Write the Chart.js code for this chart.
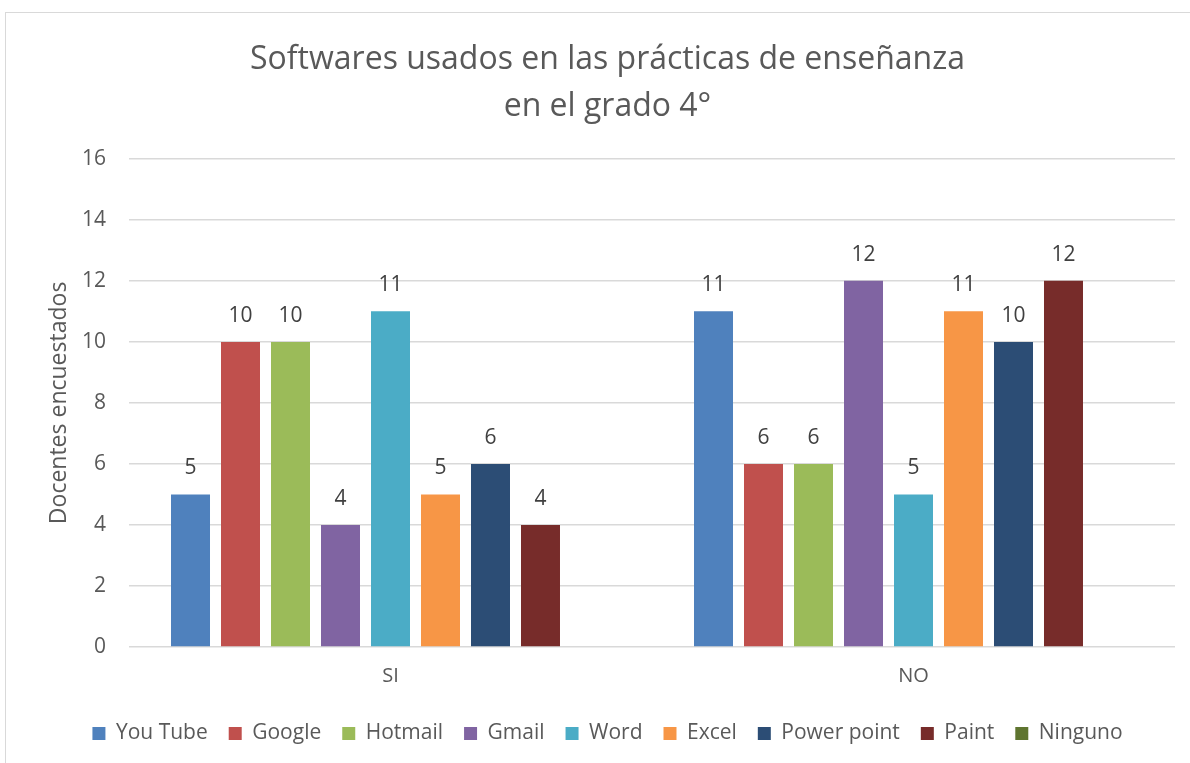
<!DOCTYPE html>
<html>
<head>
<meta charset="utf-8">
<title>Softwares usados en las prácticas de enseñanza</title>
<script src="https://cdn.jsdelivr.net/npm/chart.js@4/dist/chart.umd.min.js"></script>
<style>
  html, body { margin: 0; padding: 0; background: #fff; }
  #wrap { position: relative; width: 1190px; height: 763px; }
  #frame { position: absolute; left: 5px; top: 12px; width: 1200px; height: 800px;
           border-left: 1px solid #d9d9d9; border-top: 1px solid #d9d9d9; }
  canvas { position: absolute; left: 0; top: 0; }
</style>
</head>
<body>
<div id="wrap">
  <div id="frame"></div>
  <canvas id="chart" width="1190" height="763"></canvas>
</div>
<script>
// chart data
const categories = ["SI", "NO"];
const seriesNames = ["You Tube", "Google", "Hotmail", "Gmail", "Word", "Excel", "Power point", "Paint", "Ninguno"];
const youTube = [5, 11];
const google = [10, 6];
const hotmail = [10, 6];
const gmail = [4, 12];
const word = [11, 5];
const excel = [5, 11];
const powerPoint = [6, 10];
const paint = [4, 12];
const ninguno = [null, null];
const yTicks = [0, 2, 4, 6, 8, 10, 12, 14, 16];

const seriesValues = [youTube, google, hotmail, gmail, word, excel, powerPoint, paint, ninguno];
const colors = ["#4f81bd", "#c0504d", "#9bbb59", "#8064a2", "#4bacc6", "#f79646", "#2c4d75", "#772c2a", "#5f7530"];

const FONT = "'Open Sans', sans-serif";
const TXT = "#595959";

// draws the value above every bar
const valueLabels = {
  id: "valueLabels",
  afterDatasetsDraw(chart) {
    const ctx = chart.ctx;
    ctx.save();
    ctx.font = "21px " + FONT;
    ctx.fillStyle = "#404040";
    ctx.textAlign = "center";
    ctx.textBaseline = "middle";
    chart.data.datasets.forEach((ds, i) => {
      chart.getDatasetMeta(i).data.forEach((bar, j) => {
        const v = ds.data[j];
        if (v === null || v === undefined) return;
        ctx.fillText(String(v), bar.x, bar.y - 26);
      });
    });
    ctx.restore();
  }
};

new Chart(document.getElementById("chart"), {
  type: "bar",
  data: {
    labels: categories,
    datasets: seriesNames.map((name, i) => ({
      label: name,
      data: seriesValues[i],
      backgroundColor: colors[i],
      categoryPercentage: 0.8604,
      barPercentage: 0.78
    }))
  },
  options: {
    responsive: false,
    animation: false,
    layout: { padding: { left: 40, right: 15, top: 0, bottom: 9 } },
    plugins: {
      title: {
        display: true,
        text: ["Softwares usados en las prácticas de enseñanza", "en el grado 4°"],
        color: TXT,
        font: { family: FONT, size: 32, weight: "normal", lineHeight: 1.45 },
        padding: { top: 37, bottom: 29 }
      },
      legend: {
        position: "bottom",
        labels: {
          color: TXT,
          font: { family: FONT, size: 21 },
          boxWidth: 13,
          boxHeight: 13,
          padding: 21
        }
      },
      tooltip: { enabled: false }
    },
    scales: {
      x: {
        afterFit(scale) { scale.height += 5; },
        grid: { display: false },
        border: { display: false },
        ticks: { color: TXT, font: { family: FONT, size: 20 }, padding: 9 }
      },
      y: {
        min: 0,
        max: 16,
        afterBuildTicks(scale) { scale.ticks = yTicks.map(v => ({ value: v })); },
        afterFit(scale) { scale.width = 89; },
        grid: { color: "#d9d9d9", lineWidth: 1.5, drawTicks: false },
        border: { display: false },
        ticks: { color: TXT, font: { family: FONT, size: 21 }, padding: 23 },
        title: {
          display: true,
          text: "Docentes encuestados",
          color: TXT,
          font: { family: FONT, size: 23 },
          padding: { top: 6, bottom: 0 }
        }
      }
    }
  },
  plugins: [valueLabels]
});
</script>
</body>
</html>
